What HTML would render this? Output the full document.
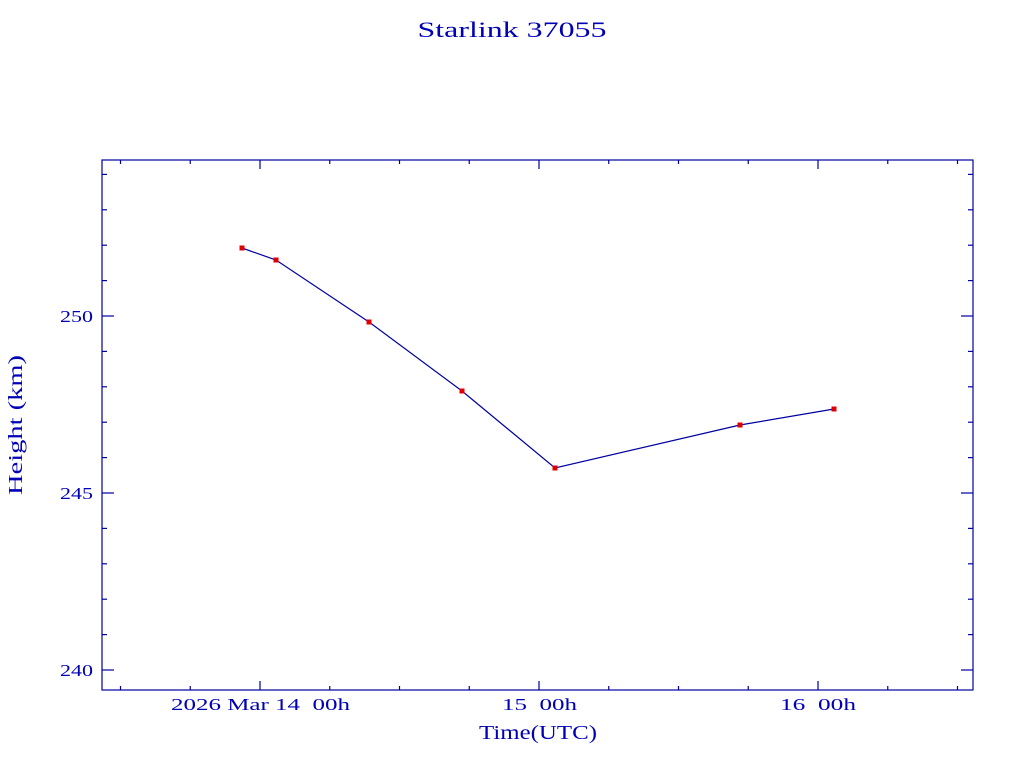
<!DOCTYPE html>
<html><head><meta charset="utf-8"><style>body{margin:0;background:#fff}svg{display:block}text{white-space:pre}</style></head>
<body>
<svg id="s" width="1024" height="768" xmlns="http://www.w3.org/2000/svg" font-family="Liberation Serif, serif" fill="#0000b4">
<rect width="1024" height="768" fill="#fff"/>
<text x="512" y="37" font-size="22" text-anchor="middle" textLength="189" lengthAdjust="spacingAndGlyphs">Starlink 37055</text>
<rect x="102" y="160" width="871" height="530" fill="none" stroke="#0000a0" stroke-width="1.2"/>
<g id="t" stroke="#0000a0" stroke-width="1.2"></g>
<g font-size="17">
<text x="93" y="322" text-anchor="end" textLength="33" lengthAdjust="spacingAndGlyphs">250</text>
<text x="93" y="499" text-anchor="end" textLength="33" lengthAdjust="spacingAndGlyphs">245</text>
<text x="93" y="676" text-anchor="end" textLength="33" lengthAdjust="spacingAndGlyphs">240</text>
<text x="171" y="710" textLength="179" lengthAdjust="spacingAndGlyphs">2026 Mar 14  00h</text>
<text x="502" y="710" textLength="75" lengthAdjust="spacingAndGlyphs">15  00h</text>
<text x="780" y="710" textLength="76" lengthAdjust="spacingAndGlyphs">16  00h</text>
<text x="538" y="739" text-anchor="middle" font-size="20" textLength="118" lengthAdjust="spacingAndGlyphs">Time(UTC)</text>
<text transform="translate(22,425) rotate(-90)" text-anchor="middle" font-size="20" textLength="140" lengthAdjust="spacingAndGlyphs">Height (km)</text>
</g>
<polyline fill="none" stroke="#0000a0" stroke-width="1.2" points="242,248 276,260 369,322 462,391 555,468 740,425 834,409"/>
<g id="p" fill="#e00000"></g>
</svg>
<script>
var t=document.getElementById('t'),h='';
function L(a,b,c,d){h+='<line x1="'+a+'" y1="'+b+'" x2="'+c+'" y2="'+d+'"/>';}
var d=35.4;
for(var k=240;k<=254;k++){var y=316-(k-250)*d;if(y<160||y>690)continue;var len=(k%5==0)?12:5;L(102,y,102+len,y);L(973,y,973-len,y);}
for(var i=-2;i<=10;i++){var x=260+i*69.75;if(x<102||x>973)continue;var len=(i%4==0)?9:4;L(x,690,x,690-len);L(x,160,x,160+len);}
t.innerHTML=h;
var p='';[[242,248],[276,260],[369,322],[462,391],[555,468],[740,425],[834,409]].forEach(function(q){p+='<rect x="'+(q[0]-2.5)+'" y="'+(q[1]-2.5)+'" width="5" height="5"/>';});
document.getElementById('p').innerHTML=p;
</script>
</body></html>
